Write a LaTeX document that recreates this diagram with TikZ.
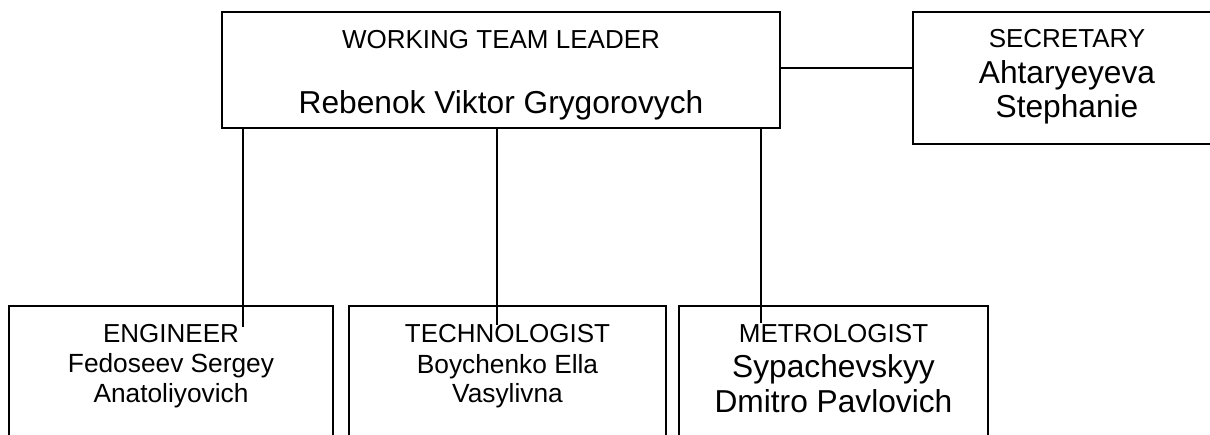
\documentclass[tikz,border=0pt]{standalone}
\usepackage{fontspec}
\setmainfont{Liberation Sans}
\usetikzlibrary{calc}

\tikzset{
  box/.style={draw, line width=1.4pt, inner sep=0pt},
  link/.style={line width=1.5pt},
  rolename/.style={anchor=base, font=\fontsize{26}{30}\selectfont},
  bigname/.style={anchor=base, font=\fontsize{31.7}{36}\selectfont},
  smallname/.style={anchor=base, font=\fontsize{26.3}{30}\selectfont}
}

\begin{document}
\begin{tikzpicture}[x=1pt,y=-1pt]
\useasboundingbox (0,0) rectangle (1210,434);
\clip (0,0) rectangle (1210,434);
% boxes
\node[box, minimum width=558pt, minimum height=116pt] (leader) at (501,70) {};
\node[box, minimum width=308pt, minimum height=132pt] (secretary) at (1067,78) {};
\node[box, minimum width=324pt, minimum height=154pt] (engineer) at (171,383) {};
\node[box, minimum width=317pt, minimum height=154pt] (technologist) at (507.5,383) {};
\node[box, minimum width=309pt, minimum height=154pt] (metrologist) at (833.5,383) {};
% texts
\node[rolename] (leadertitle) at (501,48) {WORKING TEAM LEADER};
\node[bigname] (leadername) at (501,113) {Rebenok Viktor Grygorovych};
\node[rolename] (sectitle) at (1067,47) {SECRETARY};
\node[bigname] (secname1) at (1067,83) {Ahtaryeyeva};
\node[bigname] (secname2) at (1067,117) {Stephanie};
\node[rolename] (engtitle) at (171,342) {ENGINEER};
\node[smallname] (engname1) at (171,372) {Fedoseev Sergey};
\node[smallname] (engname2) at (171,402) {Anatoliyovich};
\node[rolename] (techtitle) at (507.5,342) {TECHNOLOGIST};
\node[smallname] (techname1) at (507.5,373) {Boychenko Ella};
\node[smallname] (techname2) at (507.5,402) {Vasylivna};
\node[rolename] (metrtitle) at (833.5,342) {METROLOGIST};
\node[bigname] (metrname1) at (833.5,377) {Sypachevskyy};
\node[bigname] (metrname2) at (833.5,412) {Dmitro Pavlovich};
% connectors
\coordinate (engtip) at (243,327);
\coordinate (techtip) at (497,325);
\coordinate (metrtip) at (761,323);
\foreach \t in {engtip, techtip, metrtip} {
  \draw[link] (\t |- leader.south) -- (\t);
}
\draw[link] ([yshift=2pt]leader.east) -- ([yshift=2pt]leader.east -| secretary.west);
\end{tikzpicture}
\end{document}
